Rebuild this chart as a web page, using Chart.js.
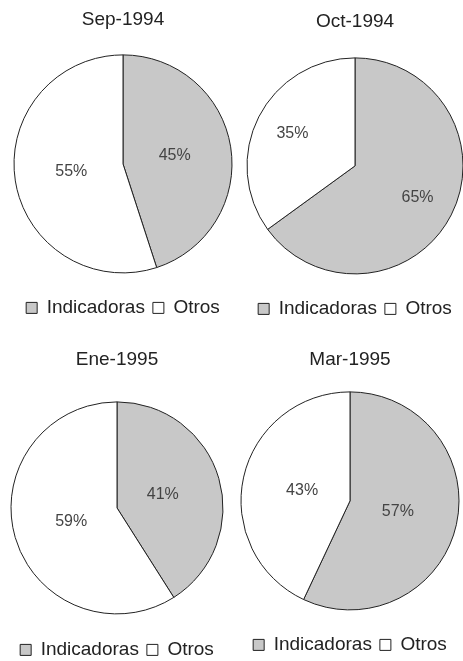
<!DOCTYPE html>
<html>
<head>
<meta charset="utf-8">
<script src="https://cdn.jsdelivr.net/npm/chart.js@4/dist/chart.umd.min.js"></script>
<style>
  html, body { margin: 0; padding: 0; background: #fff; overflow: hidden; }
  body { position: relative; width: 463px; height: 661px; }
  canvas { position: absolute; }
</style>
</head>
<body>
<script>
const months = ["Sep-1994", "Oct-1994", "Ene-1995", "Mar-1995"];
const categories = ["Indicadoras", "Otros"];
const indicadoras = [45, 65, 41, 57];
const otros = [55, 35, 59, 43];

const sliceColors = ["#c8c8c8", "#ffffff"];
const FONT = "'Liberation Sans', Arial, sans-serif";
const FONT_SIZE = 19;
const LEGEND_PAD = 8;

// where each small pie sits on the page
const panels = [
    { left: 0,   top: 0,   width: 240, height: 330, cx: 123, cy: 163, r: 109, titleY: 20, legendY: 308, labelDist: 0.48 },
    { left: 232, top: 0,   width: 231, height: 330, cx: 355, cy: 165, r: 108, titleY: 22, legendY: 309, labelDist: 0.65 },
    { left: 0,   top: 330, width: 235, height: 340, cx: 117, cy: 177, r: 106, titleY: 30, legendY: 320, labelDist: 0.45 },
    { left: 232, top: 330, width: 231, height: 340, cx: 350, cy: 170, r: 109, titleY: 30, legendY: 315, labelDist: 0.45 }
];

// percentage text inside each slice
const sliceLabels = {
    id: "sliceLabels",
    afterDatasetsDraw(chart, args, opts) {
        const ctx = chart.ctx;
        const meta = chart.getDatasetMeta(0);
        const values = chart.data.datasets[0].data;
        ctx.save();
        ctx.font = "16px " + FONT;
        ctx.fillStyle = "#444";
        ctx.textAlign = "center";
        ctx.textBaseline = "middle";
        meta.data.forEach((arc, i) => {
            const mid = (arc.startAngle + arc.endAngle) / 2;
            const d = arc.outerRadius * opts.dist;
            ctx.fillText(values[i] + "%", arc.x + Math.cos(mid) * d, arc.y + Math.sin(mid) * d);
        });
        ctx.restore();
    }
};

months.forEach((month, i) => {
    const p = panels[i];
    const canvas = document.createElement("canvas");
    canvas.width = p.width;
    canvas.height = p.height;
    canvas.style.left = p.left + "px";
    canvas.style.top = p.top + "px";
    document.body.appendChild(canvas);

    const half = FONT_SIZE * 0.6;
    const localCx = p.cx - p.left;
    let padL = 0, padR = 0;
    if (localCx > p.width / 2) padL = 2 * (localCx - p.width / 2);
    else padR = 2 * (p.width / 2 - localCx);

    const titleTop = p.titleY - half;
    const legendTop = p.legendY - half - LEGEND_PAD;
    const padBottom = p.height - (p.legendY + half + LEGEND_PAD);
    const areaTop = 2 * p.cy - legendTop;
    const titleBottom = areaTop - p.titleY - half;

    new Chart(canvas, {
        type: "pie",
        data: {
            labels: categories,
            datasets: [{
                data: [indicadoras[i], otros[i]],
                backgroundColor: sliceColors,
                borderColor: "#222",
                borderWidth: 1,
                radius: p.r
            }]
        },
        options: {
            responsive: false,
            animation: false,
            layout: { padding: { left: padL, right: padR, top: 0, bottom: padBottom } },
            plugins: {
                title: {
                    display: true,
                    text: month,
                    color: "#222",
                    font: { family: FONT, size: FONT_SIZE, weight: "normal" },
                    padding: { top: titleTop, bottom: titleBottom }
                },
                legend: {
                    position: "bottom",
                    labels: {
                        boxWidth: 11,
                        boxHeight: 11,
                        padding: LEGEND_PAD,
                        color: "#222",
                        font: { family: FONT, size: FONT_SIZE }
                    }
                },
                tooltip: { enabled: false },
                sliceLabels: { dist: p.labelDist }
            }
        },
        plugins: [sliceLabels]
    });
});
</script>
</body>
</html>
